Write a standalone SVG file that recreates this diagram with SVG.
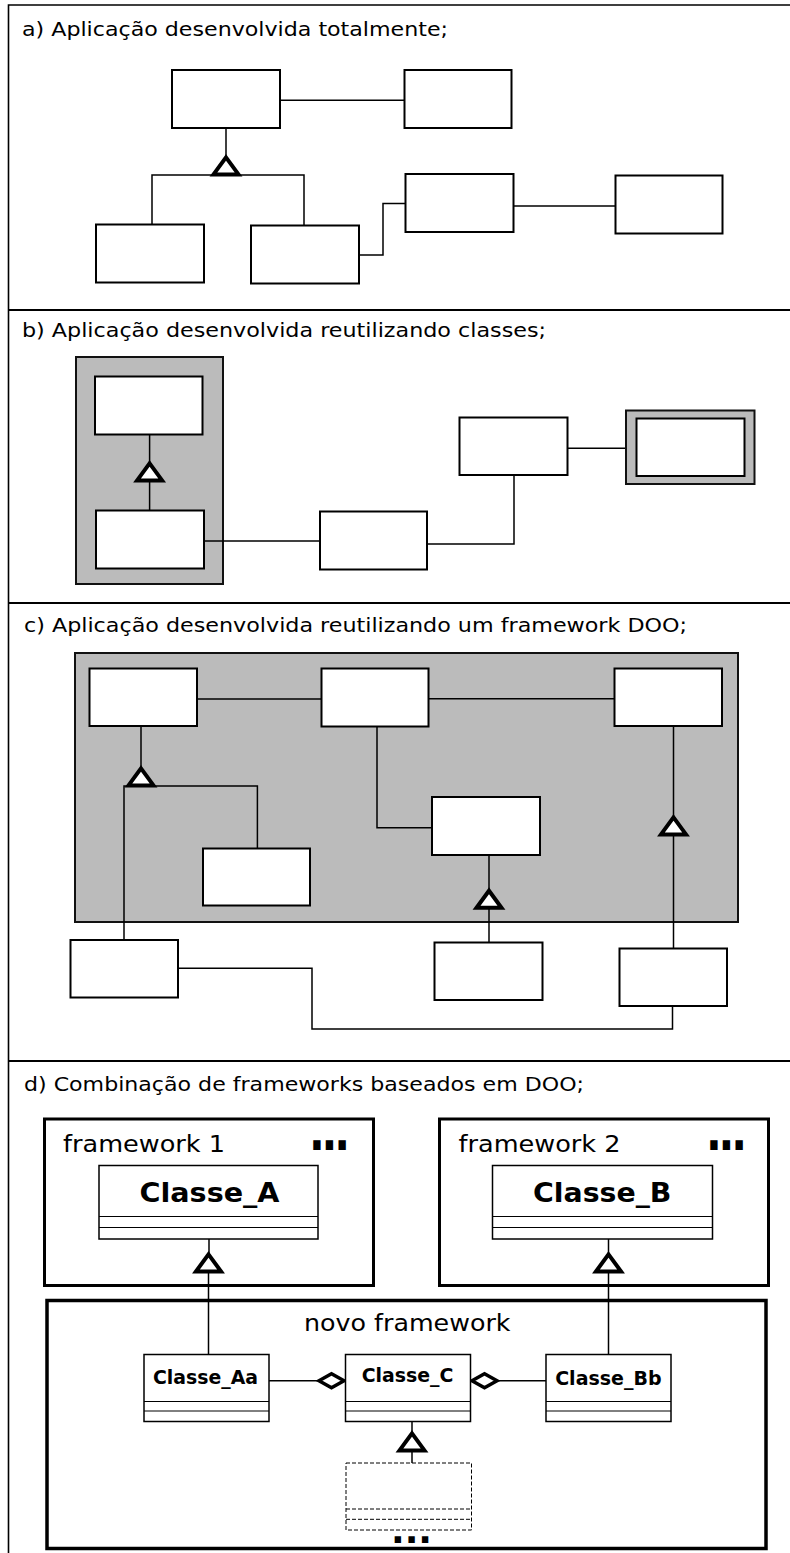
<svg xmlns="http://www.w3.org/2000/svg" xmlns:xlink="http://www.w3.org/1999/xlink" width="790" height="1553" viewBox="0 0 790 1553">
  <style>
    .frame { fill: none; stroke: #000; stroke-width: 1.6; }
    .sep { fill: none; stroke: #000; stroke-width: 2.2; }
    .box { fill: #fff; stroke: #000; stroke-width: 2; }
    .panel { fill: #bbbbbb; stroke: #111; stroke-width: 2; }
    .wire { fill: none; stroke: #000; stroke-width: 1.5; }
    .tri { fill: #fff; stroke: #000; stroke-width: 4; stroke-linejoin: miter; }
    .dia { fill: #fff; stroke: #000; stroke-width: 3.5; stroke-linejoin: miter; }
    .fw { fill: #fff; stroke: #000; stroke-width: 3; }
    .cls { fill: #fff; stroke: #000; stroke-width: 1.5; }
    .cmp { fill: none; stroke: #000; stroke-width: 1; }
    .dash { fill: none; stroke: #000; stroke-width: 1; stroke-dasharray: 4 2; }
    .lbl { font-family: "DejaVu Sans", "Liberation Sans", sans-serif; font-size: 20px; fill: #000; }
    .fwt { font-family: "DejaVu Sans", "Liberation Sans", sans-serif; font-size: 23px; fill: #000; }
    .cn { font-family: "DejaVu Sans", "Liberation Sans", sans-serif; font-weight: bold; fill: #000; }
    .dots { font-family: "DejaVu Sans", sans-serif; font-weight: bold; fill: #000; }
  </style>
  <defs>
    <!-- hollow generalization arrowhead, apex at origin -->
    <path id="tri" class="tri" d="M0,0 L12.5,17 L-12.5,17 Z"/>
    <!-- hollow aggregation diamond, left tip at origin -->
    <path id="dia" class="dia" d="M0,0 L12.5,-7 L25,0 L12.5,7 Z"/>
  </defs>

  <!-- page frame and section separators -->
  <g id="frame">
    <path class="frame" d="M8.5,1553 V5 H790"/>
    <path class="sep" d="M8.5,310 H790"/>
    <path class="sep" d="M8.5,603 H790"/>
    <path class="sep" d="M8.5,1061 H790"/>
  </g>

  <!-- section titles -->
  <g id="titles">
    <text class="lbl" x="22" y="35.5" textLength="426" lengthAdjust="spacingAndGlyphs">a) Aplicação desenvolvida totalmente;</text>
    <text class="lbl" x="22" y="337" textLength="524" lengthAdjust="spacingAndGlyphs">b) Aplicação desenvolvida reutilizando classes;</text>
    <text class="lbl" x="24" y="632" textLength="663" lengthAdjust="spacingAndGlyphs">c) Aplicação desenvolvida reutilizando um framework DOO;</text>
    <text class="lbl" x="24" y="1091" textLength="560" lengthAdjust="spacingAndGlyphs">d) Combinação de frameworks baseados em DOO;</text>
  </g>

  <!-- ===== a) ===== -->
  <g id="a-connectors">
    <path class="wire" d="M280,100.3 H404.5"/>
    <path class="wire" d="M226,128 V165"/>
    <path class="wire" d="M152,224.5 V175 H304 V225.5"/>
    <path class="wire" d="M359,255 H383 V203.5 H405.5"/>
    <path class="wire" d="M513.5,206 H615.5"/>
    <use xlink:href="#tri" x="226" y="157.4"/>
  </g>
  <g id="a-n1"><rect class="box" x="172" y="70" width="108" height="58"/></g>
  <g id="a-n2"><rect class="box" x="404.5" y="70" width="107" height="58"/></g>
  <g id="a-n3"><rect class="box" x="96" y="224.5" width="108" height="58"/></g>
  <g id="a-n4"><rect class="box" x="251" y="225.5" width="108" height="58"/></g>
  <g id="a-n5"><rect class="box" x="405.5" y="174" width="108" height="58"/></g>
  <g id="a-n6"><rect class="box" x="615.5" y="175.5" width="107" height="58"/></g>

  <!-- ===== b) ===== -->
  <g id="b-lib"><rect class="panel" x="76" y="357" width="147" height="227"/></g>
  <g id="b-connectors">
    <path class="wire" d="M149.6,434.5 V510.5"/>
    <path class="wire" d="M204,541 H320"/>
    <path class="wire" d="M427,544 H514 V475"/>
    <path class="wire" d="M567.5,448.3 H636.5"/>
    <use xlink:href="#tri" x="149.6" y="463.4"/>
  </g>
  <g id="b-n1"><rect class="box" x="95" y="376.5" width="107.5" height="58"/></g>
  <g id="b-n2"><rect class="box" x="96" y="510.5" width="108" height="58"/></g>
  <g id="b-n3"><rect class="box" x="320" y="511.5" width="107" height="58"/></g>
  <g id="b-n4"><rect class="box" x="459.5" y="417.5" width="108" height="57.5"/></g>
  <g id="b-n5">
    <rect class="panel" x="626" y="410.5" width="128.5" height="73.5"/>
    <rect class="box" x="636.5" y="418.5" width="108" height="57.5"/>
  </g>

  <!-- ===== c) ===== -->
  <g id="c-framework"><rect class="panel" x="75" y="653" width="663" height="269"/></g>
  <g id="c-connectors">
    <path class="wire" d="M197,699 H321.5"/>
    <path class="wire" d="M428.5,698.7 H614.5"/>
    <path class="wire" d="M141,726 V775"/>
    <path class="wire" d="M124,940 V786 H257.4 V848.5"/>
    <path class="wire" d="M377,726 V827.7 H432"/>
    <path class="wire" d="M489,855 V942.5"/>
    <path class="wire" d="M673.5,726 V948.5"/>
    <path class="wire" d="M178,968.3 H312 V1029 H672.5 V1006"/>
    <use xlink:href="#tri" x="141" y="768.4"/>
    <use xlink:href="#tri" x="489" y="890.7"/>
    <use xlink:href="#tri" x="673.5" y="817.4"/>
  </g>
  <g id="c-n1"><rect class="box" x="89.5" y="668.5" width="107.5" height="57.5"/></g>
  <g id="c-n2"><rect class="box" x="321.5" y="668.5" width="107" height="58"/></g>
  <g id="c-n3"><rect class="box" x="614.5" y="668.5" width="107.5" height="57.5"/></g>
  <g id="c-n4"><rect class="box" x="203" y="848.5" width="107" height="57"/></g>
  <g id="c-n5"><rect class="box" x="432" y="797" width="108" height="58"/></g>
  <g id="c-n6"><rect class="box" x="70.5" y="940" width="107.5" height="57.5"/></g>
  <g id="c-n7"><rect class="box" x="434.5" y="942.5" width="108" height="57.5"/></g>
  <g id="c-n8"><rect class="box" x="619.5" y="948.5" width="107.5" height="57.5"/></g>

  <!-- ===== d) ===== -->
  <g id="framework1">
    <rect class="fw" x="44.5" y="1119" width="329" height="166.5"/>
    <text class="fwt" x="63" y="1152" textLength="162" lengthAdjust="spacingAndGlyphs">framework 1</text>
    <text class="dots" transform="translate(309,1149.5) scale(0.8,1)" font-size="52" letter-spacing="-4">...</text>
  </g>
  <g id="framework2">
    <rect class="fw" x="439.5" y="1119" width="329" height="166.5"/>
    <text class="fwt" x="458.5" y="1152" textLength="162" lengthAdjust="spacingAndGlyphs">framework 2</text>
    <text class="dots" transform="translate(706,1149.5) scale(0.8,1)" font-size="52" letter-spacing="-4">...</text>
  </g>
  <g id="novo-framework">
    <rect class="fw" x="47" y="1300.5" width="719" height="248" style="stroke-width:3.5"/>
    <text class="fwt" x="304" y="1331" textLength="206.5" lengthAdjust="spacingAndGlyphs">novo framework</text>
    <text class="dots" x="391" y="1542.5" font-size="36">...</text>
  </g>

  <g id="d-connectors">
    <path class="wire" d="M209,1239 V1262"/>
    <path class="wire" d="M208.5,1262 V1354.5"/>
    <path class="wire" d="M608.5,1239 V1354.5"/>
    <path class="wire" d="M269,1380.7 H319"/>
    <path class="wire" d="M497,1380.7 H546"/>
    <path class="wire" d="M412,1421.5 V1463"/>
    <use xlink:href="#tri" x="208.5" y="1254.4"/>
    <use xlink:href="#tri" x="608.5" y="1254.4"/>
    <use xlink:href="#tri" x="412" y="1433.4"/>
    <use xlink:href="#dia" x="319" y="1380.7"/>
    <use xlink:href="#dia" x="472" y="1380.7"/>
  </g>

  <g id="classe-a">
    <rect class="cls" x="99" y="1165.5" width="219" height="73.5"/>
    <path class="cmp" d="M99,1216.5 H318 M99,1227.5 H318"/>
    <text class="cn" x="139.5" y="1201.5" font-size="26" textLength="140" lengthAdjust="spacingAndGlyphs">Classe_A</text>
  </g>
  <g id="classe-b">
    <rect class="cls" x="492.5" y="1165.5" width="220" height="73.5"/>
    <path class="cmp" d="M492.5,1216.5 H712.5 M492.5,1227.5 H712.5"/>
    <text class="cn" x="533" y="1201.5" font-size="26" textLength="138.5" lengthAdjust="spacingAndGlyphs">Classe_B</text>
  </g>
  <g id="classe-aa">
    <rect class="cls" x="144" y="1354.5" width="125" height="67"/>
    <path class="cmp" d="M144,1401.5 H269 M144,1411 H269"/>
    <text class="cn" x="153" y="1384" font-size="19" textLength="105" lengthAdjust="spacingAndGlyphs">Classe_Aa</text>
  </g>
  <g id="classe-c">
    <rect class="cls" x="345.5" y="1354.5" width="125" height="67"/>
    <path class="cmp" d="M345.5,1401.5 H470.5 M345.5,1411 H470.5"/>
    <text class="cn" x="361.7" y="1382.3" font-size="19" textLength="91.7" lengthAdjust="spacingAndGlyphs">Classe_C</text>
  </g>
  <g id="classe-bb">
    <rect class="cls" x="546" y="1354.5" width="125" height="67"/>
    <path class="cmp" d="M546,1401.5 H671 M546,1411 H671"/>
    <text class="cn" x="555.2" y="1385" font-size="19" textLength="106.3" lengthAdjust="spacingAndGlyphs">Classe_Bb</text>
  </g>
  <g id="classe-sub">
    <rect class="dash" x="346" y="1463" width="125.5" height="67"/>
    <path class="dash" d="M346,1509 H471.5 M346,1519.3 H471.5"/>
  </g>
</svg>
